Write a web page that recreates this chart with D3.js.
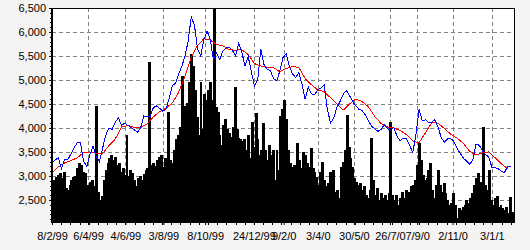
<!DOCTYPE html>
<html>
<head>
<meta charset="utf-8">
<script src="https://cdn.jsdelivr.net/npm/d3@7"></script>
<style>
  body { margin: 0; background: #f4f3f1; }
  svg text { font-family: "Liberation Sans", Arial, sans-serif; font-size: 11px; fill: #000; }
</style>
</head>
<body>
<div id="chart"></div>
<script>
// dates of the series: first point and spacing in days
var startDate = "1999-02-08", endDate = "2001-02-07";
var volumeStep = 3, priceStep = 5, avgStep = 10;

// black bars, one every 3 days
var volume = [
  2860, 2920, 2980, 3020, 3070, 2960, 3090, 2750, 2710, 2820,
  2920, 2980, 3000, 3170, 3280, 3230, 3090, 3070, 2820, 2670,
  2880, 2920, 2790, 4450, 2670, 2500, 2580, 2920, 3130, 3270,
  3380, 3440, 3340, 3400, 3230, 3270, 3090, 3170, 3020, 3860,
  3000, 3130, 3070, 2920, 2790, 2960, 3000, 2920, 3050, 3130,
  3170, 5370, 3230, 3280, 3210, 3340, 3400, 3440, 3190, 3380,
  3380, 4340, 3340, 3280, 3550, 3760, 3860, 4030, 5080, 4200,
  4450, 4530, 4950, 5540, 5290, 4800, 4220, 3860, 4950, 3970,
  4700, 4590, 4800, 4950, 4590, 6600, 4430, 4340, 3860, 3650,
  4070, 4180, 3970, 3900, 3820, 4010, 4850, 3970, 3800, 3760,
  3720, 3760, 3550, 3860, 3380, 4130, 3610, 4320, 3760, 3440,
  3550, 4110, 3550, 3340, 3650, 3440, 3550, 2920, 3550, 3130,
  4240, 4390, 4590, 4180, 3550, 3280, 3190, 3230, 3130, 3690,
  3340, 3170, 3490, 3440, 3280, 3190, 3590, 3170, 3090, 2980,
  2820, 3090, 3300, 2920, 2790, 2860, 3090, 3000, 3130, 2670,
  2710, 2540, 3190, 3300, 3550, 4280, 3610, 3380, 3190, 2960,
  2880, 2820, 2860, 2710, 2790, 2600, 2540, 2710, 3800, 2920,
  2600, 2750, 2500, 2650, 2540, 2600, 2500, 2650, 4130, 2600,
  2500, 2600, 2400, 2540, 2670, 2540, 2710, 2580, 2670, 2790,
  2820, 2920, 3230, 3690, 3340, 3020, 2920, 2960, 3130, 3280,
  2710, 2540, 2820, 3130, 2820, 2670, 2860, 2650, 2500, 2400,
  2440, 2650, 2400, 2120, 2330, 2290, 2350, 2400, 2500, 2440,
  2540, 2650, 2820, 2960, 3070, 2880, 2750, 4030, 2820, 2710,
  3130, 2500, 2400, 2540, 2580, 2350, 2400, 2330, 2290, 2350,
  2230, 2560, 2250
];

// blue line, one point every 5 days
var price = [
  3270, 3330, 3380, 3150, 3350, 3340, 3460, 3590, 3690, 3700,
  3300, 3200, 3450, 3620, 3400, 3300, 3580, 3850, 4000, 3970,
  4120, 4210, 4050, 4100, 4050, 4010, 3960, 3910, 4000, 4250,
  4240, 4240, 4420, 4460, 4410, 4350, 4390, 4610, 4880, 4930,
  5120, 5280, 5490, 5800, 6310, 6150, 5650, 5500, 5840, 6020,
  5850, 5420, 5560, 5430, 5600, 5670, 5680, 5620, 5500, 5770,
  5570, 5290, 5490, 5170, 4870, 5000, 5650, 5320, 5220, 5200,
  5030, 4980, 5190, 5470, 5540, 5280, 5130, 5050, 5150, 4910,
  4600, 4850, 4710, 4690, 4800, 4830, 4900, 4400, 4100, 4200,
  4420, 4550, 4700, 4780, 4680, 4550, 4460, 4390, 4360, 4270,
  4150, 4040, 3980, 3930, 3970, 4070, 3990, 3950, 4020, 3830,
  3730, 3790, 3770, 3640, 3490, 3850, 4390, 4150, 4170, 4120,
  4120, 4170, 4020, 3800, 3700, 3770, 3780, 3720, 3580, 3470,
  3370, 3310, 3240, 3330, 3660, 3640, 3530, 3440, 3400, 3180,
  3170, 3150, 3100, 3070, 3200, 3200
];

// red line, one point every 10 days
var movingAvg = [
  3060, 3190, 3270, 3320, 3380, 3490, 3500, 3470, 3470, 3630,
  3770, 4020, 4050, 4010, 4010, 4080, 4230, 4340, 4410, 4520,
  4740, 5070, 5470, 5720, 5860, 5830, 5740, 5710, 5630, 5620,
  5630, 5530, 5340, 5290, 5260, 5260, 5170, 5240, 5280, 5260,
  5030, 4900, 4790, 4760, 4630, 4500, 4370, 4500, 4600, 4550,
  4440, 4240, 4090, 4020, 4000, 3950, 3860, 3730, 3690, 3900,
  4110, 4100, 3990, 3870, 3790, 3680, 3510, 3440, 3480, 3500,
  3380, 3250, 3150
];

var yTicks = [2500, 3000, 3500, 4000, 4500, 5000, 5500, 6000, 6500];
var tickDates = ["1999-02-08", "1999-04-06", "1999-06-04", "1999-08-03", "1999-10-08",
                 "1999-12-24", "2000-02-09", "2000-04-03", "2000-05-30", "2000-07-26",
                 "2000-09-07", "2000-11-02", "2001-01-03"];
var tickLabels = ["8/2/99", "6/4/99", "4/6/99", "3/8/99", "8/10/99", "24/12/99", "9/2/0",
                  "3/4/0", "30/5/0", "26/7/0", "7/9/0", "2/11/0", "3/1/1"];

var margin = {top: 8, right: 16, bottom: 28, left: 52},
    width = 530 - margin.left - margin.right,
    height = 250 - margin.top - margin.bottom;

var svg = d3.select("#chart")
  .append("svg")
    .attr("width", width + margin.left + margin.right)
    .attr("height", height + margin.top + margin.bottom)
  .append("g")
    .attr("transform", "translate(" + margin.left + "," + margin.top + ")");

var parse = d3.utcParse("%Y-%m-%d");
var start = parse(startDate);

var x = d3.scaleUtc()
  .domain([start, parse(endDate)])
  .range([0, width]);

var y = d3.scaleLinear()
  .domain([2040, 6500])
  .range([height, 0]);

// plot background
svg.append("rect")
  .attr("width", width)
  .attr("height", height)
  .attr("fill", "#fff");

svg.append("clipPath").attr("id", "clip")
  .append("rect").attr("width", width).attr("height", height);

// dashed grid
svg.append("g")
  .selectAll("line")
  .data(yTicks.slice(0, -1))
  .enter().append("line")
    .attr("x1", 0).attr("x2", width)
    .attr("y1", function(d) { return Math.round(y(d)) + 0.5; })
    .attr("y2", function(d) { return Math.round(y(d)) + 0.5; })
    .attr("stroke", "#808080")
    .attr("stroke-dasharray", "4,3");

svg.append("g")
  .selectAll("line")
  .data(tickDates.slice(1))
  .enter().append("line")
    .attr("x1", function(d) { return Math.round(x(parse(d))) + 0.5; })
    .attr("x2", function(d) { return Math.round(x(parse(d))) + 0.5; })
    .attr("y1", 0).attr("y2", height)
    .attr("stroke", "#808080")
    .attr("stroke-dasharray", "4,3");

var plot = svg.append("g").attr("clip-path", "url(#clip)");

// volume bars
plot.append("g")
  .attr("shape-rendering", "crispEdges")
  .selectAll("rect")
  .data(volume)
  .enter().append("rect")
    .attr("x", function(d, i) { return Math.floor(x(d3.utcDay.offset(start, i * volumeStep))); })
    .attr("width", function(d, i) {
      return Math.ceil(x(d3.utcDay.offset(start, (i + 1) * volumeStep))) - Math.floor(x(d3.utcDay.offset(start, i * volumeStep)));
    })
    .attr("y", function(d) { return Math.round(y(d)); })
    .attr("height", function(d) { return height - Math.round(y(d)); })
    .attr("fill", "#000");

// moving average
plot.append("path")
  .datum(movingAvg)
  .attr("fill", "none")
  .attr("stroke", "#ff0000")
  .attr("stroke-width", 1)
  .attr("shape-rendering", "crispEdges")
  .attr("d", d3.line()
    .x(function(d, i) { return x(d3.utcDay.offset(start, i * avgStep)); })
    .y(function(d) { return y(d); }));

// price
plot.append("path")
  .datum(price)
  .attr("fill", "none")
  .attr("stroke", "#0000ff")
  .attr("stroke-width", 1)
  .attr("shape-rendering", "crispEdges")
  .attr("d", d3.line()
    .x(function(d, i) { return x(d3.utcDay.offset(start, i * priceStep)); })
    .y(function(d) { return y(d); }));

// frame
svg.append("rect")
  .attr("x", 0.5).attr("y", 0.5)
  .attr("width", width).attr("height", height)
  .attr("fill", "none")
  .attr("stroke", "#000");
svg.append("line")
  .attr("x1", 0).attr("x2", 0)
  .attr("y1", 0).attr("y2", height + 1)
  .attr("stroke", "#000")
  .attr("stroke-width", 2);

// Y axis
var yAxis = svg.append("g")
  .call(d3.axisLeft(y).tickValues(yTicks).tickFormat(d3.format(",")).tickSize(3).tickPadding(3));
yAxis.select(".domain").remove();
yAxis.selectAll("text").style("font-size", "11px").attr("font-family", null);

// small ticks on the y axis every 100
svg.append("g")
  .selectAll("line")
  .data(d3.range(2100, 6500, 100))
  .enter().append("line")
    .attr("x1", -2).attr("x2", 0)
    .attr("y1", function(d) { return Math.round(y(d)) + 0.5; })
    .attr("y2", function(d) { return Math.round(y(d)) + 0.5; })
    .attr("stroke", "#000");

// X axis
var xAxis = svg.append("g")
  .attr("transform", "translate(0," + height + ")")
  .call(d3.axisBottom(x)
    .tickValues(tickDates.map(parse))
    .tickFormat(function(d, i) { return tickLabels[i]; })
    .tickSize(3)
    .tickPadding(7));
xAxis.select(".domain").remove();
xAxis.selectAll("text").style("font-size", "11px").attr("font-family", null);

// small ticks on the x axis
svg.append("g")
  .attr("transform", "translate(0," + height + ")")
  .selectAll("line")
  .data(d3.range(0, 730, 14.5))
  .enter().append("line")
    .attr("x1", function(d) { return Math.round(x(d3.utcHour.offset(start, d * 24))) + 0.5; })
    .attr("x2", function(d) { return Math.round(x(d3.utcHour.offset(start, d * 24))) + 0.5; })
    .attr("y1", 0).attr("y2", 3)
    .attr("stroke", "#000");
</script>
</body>
</html>
